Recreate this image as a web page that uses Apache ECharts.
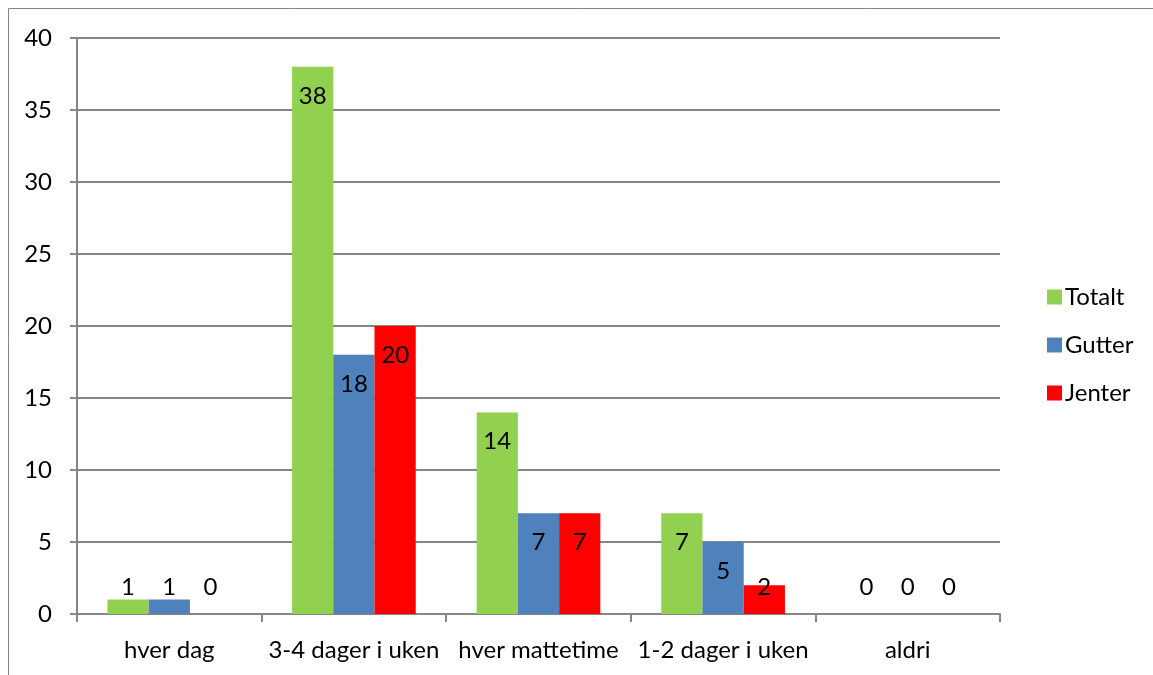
<!DOCTYPE html>
<html>
<head>
<meta charset="utf-8">
<script src="https://cdn.jsdelivr.net/npm/echarts@6/dist/echarts.min.js"></script>
<style>
  html, body { margin: 0; padding: 0; background: #fff; }
  #chart { width: 1153px; height: 675px; }
</style>
</head>
<body>
<div id="chart"></div>
<script>
// data
var categories = ['hver dag', '3-4 dager i uken', 'hver mattetime', '1-2 dager i uken', 'aldri'];
var totalt = [1, 38, 14, 7, 0];
var gutter = [1, 18, 7, 5, 0];
var jenter = [0, 20, 7, 2, 0];
var yTicks = [0, 5, 10, 15, 20, 25, 30, 35, 40];

var FONT = 'Lato';
var FS = 24;
var lineColor = '#868686';

// small bars get their label just above the baseline, bigger ones inside the top
function withLabels(arr) {
    return arr.map(function (v) {
        if (v < 5) {
            return { value: v, label: { position: 'insideBottom', distance: 15 } };
        }
        return { value: v, label: { position: 'insideTop', distance: 17 } };
    });
}

function mkSeries(name, arr, color) {
    return {
        name: name,
        type: 'bar',
        data: withLabels(arr),
        barGap: '0%',
        barCategoryGap: '33%',
        itemStyle: { color: color },
        label: {
            show: true,
            color: '#000',
            fontFamily: FONT,
            fontSize: FS,
            lineHeight: FS
        },
        emphasis: { disabled: true }
    };
}

var chart = echarts.init(document.getElementById('chart'));
chart.setOption({
    animation: false,
    backgroundColor: '#fff',
    graphic: [{
        type: 'rect',
        shape: { x: 8.5, y: 8.5, width: 1300, height: 800 },
        style: { fill: null, stroke: lineColor, lineWidth: 1 },
        silent: true
    }],
    grid: { left: 77, right: 153, top: 38, bottom: 61, containLabel: false },
    legend: {
        orient: 'vertical',
        left: 1042,
        top: 280,
        itemWidth: 15,
        itemHeight: 15,
        itemGap: 24,
        icon: 'rect',
        textStyle: { fontFamily: FONT, fontSize: FS, lineHeight: FS, color: '#000', padding: [0, 0, 0, -2] },
        data: ['Totalt', 'Gutter', 'Jenter']
    },
    xAxis: {
        type: 'category',
        data: categories,
        axisLine: { lineStyle: { color: lineColor, width: 2 } },
        axisTick: { show: true, length: 8, lineStyle: { color: lineColor, width: 2 } },
        axisLabel: { fontFamily: FONT, fontSize: FS, color: '#000', margin: 24, interval: 0 }
    },
    yAxis: {
        type: 'value',
        min: yTicks[0],
        max: yTicks[yTicks.length - 1],
        interval: yTicks[1] - yTicks[0],
        axisLine: { show: true, lineStyle: { color: lineColor, width: 2 } },
        axisTick: { show: true, length: 7, lineStyle: { color: lineColor, width: 2 } },
        splitLine: { show: true, lineStyle: { color: lineColor, width: 2 } },
        axisLabel: { fontFamily: FONT, fontSize: FS, color: '#000', margin: 25 }
    },
    series: [
        mkSeries('Totalt', totalt, '#92D050'),
        mkSeries('Gutter', gutter, '#4F81BD'),
        mkSeries('Jenter', jenter, '#FF0000')
    ]
});
</script>
</body>
</html>
